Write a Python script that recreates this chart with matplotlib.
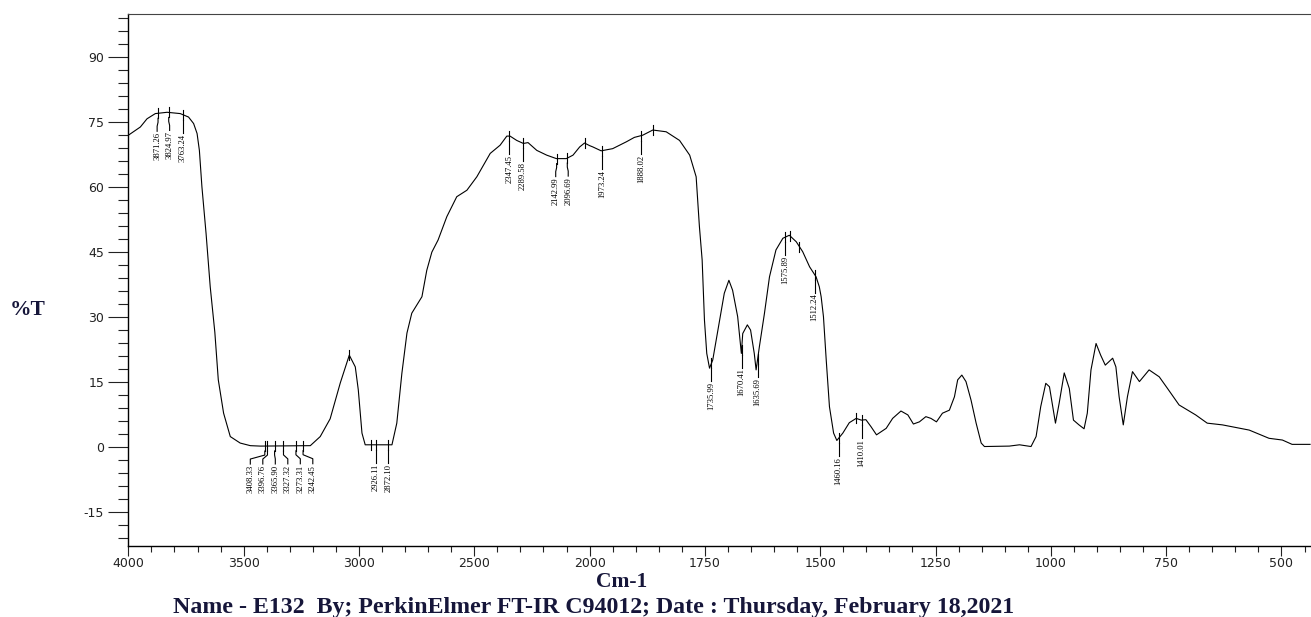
import numpy as np
import matplotlib
matplotlib.use('Agg')
import matplotlib.pyplot as plt
from matplotlib.ticker import FixedLocator

plt.rcParams['axes.unicode_minus'] = False

# spectrum (cm-1, %T)
wavenumber = [4000, 3948, 3919, 3883, 3832, 3775, 3739, 3717, 3702, 3692,
              3681, 3663, 3645, 3625, 3610, 3587, 3558, 3515, 3471, 3428,
              3211, 3168, 3125, 3081, 3042, 3016, 3003, 2987, 2973, 2857,
              2836, 2814, 2792, 2771, 2727, 2706, 2684, 2657, 2619, 2576,
              2532, 2489, 2431, 2388, 2359, 2345, 2316, 2287, 2267, 2229,
              2186, 2144, 2101, 2072, 2043, 2022, 2000, 1993, 1975, 1950,
              1920, 1903, 1885, 1863, 1834, 1805, 1783, 1769, 1762, 1756,
              1751, 1746, 1740, 1733, 1718, 1708, 1698, 1690, 1679, 1671,
              1668, 1658, 1651, 1643, 1639, 1632, 1621, 1610, 1596, 1581,
              1567, 1552, 1538, 1523, 1509, 1502, 1498, 1493, 1487, 1480,
              1471, 1464, 1451, 1437, 1422, 1411, 1401, 1390, 1378, 1357,
              1343, 1325, 1310, 1298, 1285, 1271, 1260, 1248, 1235, 1220,
              1209, 1202, 1193, 1184, 1173, 1162, 1151, 1144, 1090, 1068,
              1043, 1032, 1022, 1011, 1003, 996, 990, 982, 971, 960,
              951, 939, 928, 921, 913, 902, 892, 882, 866, 859,
              852, 843, 834, 823, 808, 787, 765, 747, 722, 686,
              661, 628, 570, 527, 498, 477, 438]
transmittance = [72.0, 73.9, 75.8, 77.0, 77.3, 77.0, 76.2, 74.7, 72.4, 68.5,
                 60.1, 49.3, 37.0, 26.5, 15.5, 7.8, 2.4, 0.9, 0.3, 0.2,
                 0.3, 2.4, 6.5, 14.8, 21.2, 18.5, 13.2, 3.2, 0.5, 0.5,
                 5.5, 17.0, 26.3, 30.9, 34.7, 40.8, 45.0, 47.8, 53.2, 57.8,
                 59.3, 62.4, 67.8, 69.7, 71.8, 71.8, 70.8, 70.1, 70.3, 68.5,
                 67.4, 66.6, 66.6, 67.4, 69.3, 70.2, 69.6, 69.3, 68.4, 68.9,
                 70.5, 71.5, 72.0, 73.2, 72.8, 70.8, 67.4, 62.4, 51.0, 43.2,
                 29.3, 21.6, 18.2, 20.1, 29.3, 35.5, 38.5, 36.2, 30.1, 21.6,
                 26.2, 28.2, 27.0, 21.6, 17.8, 23.1, 30.8, 39.3, 45.5, 48.2,
                 48.9, 47.4, 45.1, 41.6, 39.3, 37.0, 34.7, 30.1, 20.1, 9.3,
                 3.2, 1.5, 3.2, 5.6, 6.6, 6.2, 6.3, 4.7, 2.8, 4.3,
                 6.6, 8.3, 7.4, 5.3, 5.8, 7.0, 6.6, 5.8, 7.8, 8.5,
                 11.6, 15.5, 16.6, 15.1, 10.8, 5.5, 0.9, 0.1, 0.2, 0.5,
                 0.1, 2.4, 9.3, 14.7, 13.9, 9.3, 5.5, 10.1, 17.1, 13.5,
                 6.2, 5.1, 4.2, 7.8, 17.8, 23.9, 21.2, 18.9, 20.5, 18.5,
                 11.6, 5.1, 11.6, 17.4, 15.1, 17.8, 16.2, 13.5, 9.7, 7.4,
                 5.5, 5.1, 3.9, 2.0, 1.6, 0.6, 0.6]

peaks = [3871.26, 3824.97, 3763.24, 3408.33, 3396.76, 3365.90, 3327.32,
         3273.31, 3242.45, 2926.11, 2872.10, 2347.45, 2289.58, 2142.99,
         2096.69, 1973.24, 1888.02, 1735.99, 1670.41, 1635.69, 1575.89,
         1512.24, 1460.16, 1410.01]
marks = [3042, 2947, 2022, 1863, 1565, 1545, 1422]  # unlabelled peak marks

x_major = [4000, 3500, 3000, 2500, 2000, 1750, 1500, 1250, 1000, 750, 500]
y_major = [-15, 0, 15, 30, 45, 60, 75, 90]

navy = '#16163a'


# instrument scale: 500 cm-1 per division above 2000, 250 below
def fwd(x):
    x = np.asarray(x, float)
    return np.where(x >= 2000, (x - 2000) / 500.0, (x - 2000) / 250.0)


def inv(p):
    p = np.asarray(p, float)
    return np.where(p >= 0, 2000 + 500.0 * p, 2000 + 250.0 * p)


fig = plt.figure(figsize=(13.11, 6.17), dpi=100)
ax = fig.add_axes([0.0979, 0.1156, 0.9021, 0.8617])
ax.set_xscale('function', functions=(fwd, inv))
ax.plot(wavenumber, transmittance, color='black', lw=0.8)
ax.set_xlim(4000, 436)
ax.set_ylim(-22.8, 100)
ax.autoscale(False)

ax.set_xticks(x_major)
ax.set_xticklabels([str(v) for v in x_major])
x_minor = list(range(3900, 2000, -100)) + list(range(1950, 436, -50))
ax.xaxis.set_minor_locator(FixedLocator(x_minor))
ax.set_yticks(y_major)
ax.set_yticklabels([str(v) for v in y_major])
ax.yaxis.set_minor_locator(FixedLocator(np.arange(-21, 100, 3)))

ax.tick_params(axis='y', which='major', length=14.4, width=0.8, pad=3,
               labelsize=9, colors='#222222')
ax.tick_params(axis='y', which='minor', length=7.2, width=0.8, colors='#222222')
ax.tick_params(axis='x', which='major', length=7.2, width=0.8, pad=1,
               labelsize=9, colors='#222222')
ax.tick_params(axis='x', which='minor', length=4.3, width=0.8, colors='#222222')

ax.spines['right'].set_visible(False)
ax.spines['top'].set_linewidth(0.8)
ax.spines['top'].set_color('#444444')
ax.spines['left'].set_linewidth(1.0)
ax.spines['bottom'].set_linewidth(1.0)

# peak picking marks
wn_inc = np.array(wavenumber, float)[::-1]
t_inc = np.array(transmittance, float)[::-1]
to_px = ax.transData
to_data = ax.transData.inverted()


def mark_line(pts):
    d = to_data.transform(np.array(pts, float))
    ax.plot(d[:, 0], d[:, 1], color='black', lw=0.8)


peak_t = np.interp(peaks, wn_inc, t_inc)
px = to_px.transform(np.column_stack([peaks, peak_t]))
gap = 12.5
groups = [[0]]
for i in range(1, len(peaks)):
    if px[i, 0] - px[i - 1, 0] < gap:
        groups[-1].append(i)
    else:
        groups.append([i])
lab_x = px[:, 0].copy()
for g in groups:
    centre = px[g, 0].mean()
    for j, i in enumerate(g):
        lab_x[i] = centre + (j - (len(g) - 1) / 2.0) * gap

off = 18
for i, p in enumerate(peaks):
    xc, yc = px[i]
    mark_line([(xc, yc + 5), (xc, yc - 5)])
    if abs(lab_x[i] - xc) < 0.5:
        mark_line([(xc, yc - 5), (xc, yc - off)])
    else:
        mark_line([(xc, yc - 5), (xc, yc - 9), (lab_x[i], yc - 13),
                   (lab_x[i], yc - off)])
    tx, ty = to_data.transform((lab_x[i], yc - off - 1))
    ax.text(tx, ty, '%.2f' % p, rotation=90, ha='center', va='top',
            fontsize=6.2, family='Liberation Serif')

mark_t = np.interp(marks, wn_inc, t_inc)
for xc, yc in to_px.transform(np.column_stack([marks, mark_t])):
    mark_line([(xc, yc + 5), (xc, yc - 5)])

fig.text(28 / 1311, 1 - 310 / 617, '%T', ha='center', va='center', fontsize=15.5,
         fontweight='bold', family='Liberation Serif', color=navy)
fig.text(622 / 1311, 1 - 582 / 617, 'Cm-1', ha='center', va='center', fontsize=15.5,
         fontweight='bold', family='Liberation Serif', color=navy)
fig.text(173 / 1311, 1 - 608 / 617,
         'Name - E132  By; PerkinElmer FT-IR C94012; Date : Thursday, February 18,2021',
         ha='left', va='center', fontsize=17.2, fontweight='bold',
         family='Liberation Serif', color=navy)

fig.savefig('out.png', dpi=100)
